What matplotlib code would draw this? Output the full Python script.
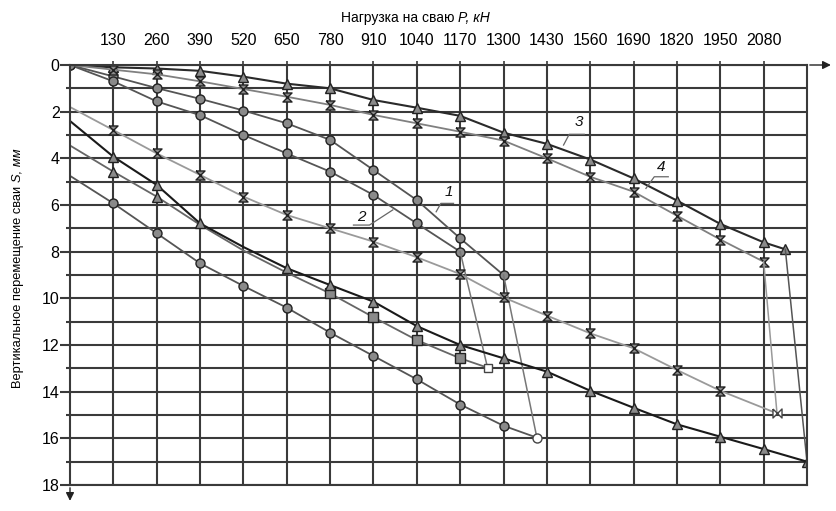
import matplotlib
matplotlib.use("Agg")
import matplotlib.pyplot as plt
import numpy as np

# --- data (load P, kN / settlement S, mm) ---
# loading branches
load_x1 = [0, 130, 260, 390, 520, 650, 780, 910, 1040, 1170, 1300]
load_s1 = [0, 0.49, 0.99, 1.45, 1.95, 2.5, 3.21, 4.5, 5.79, 7.43, 9.0]
load_x2 = [0, 130, 260, 390, 520, 650, 780, 910, 1040, 1170]
load_s2 = [0, 0.7, 1.56, 2.15, 3.0, 3.79, 4.57, 5.57, 6.79, 8.0]
load_x3 = [0, 130, 260, 390, 520, 650, 780, 910, 1040, 1170, 1300, 1430, 1560,
           1690, 1820, 1950, 2080, 2145]
load_s3 = [0, 0.1, 0.15, 0.25, 0.5, 0.8, 1.0, 1.5, 1.83, 2.18, 2.9, 3.38, 4.05,
           4.86, 5.81, 6.81, 7.6, 7.9]
load_x4 = [0, 130, 260, 390, 520, 650, 780, 910, 1040, 1170, 1300, 1430, 1560,
           1690, 1820, 1950, 2080]
load_s4 = [0, 0.2, 0.4, 0.7, 1.03, 1.36, 1.71, 2.14, 2.5, 2.86, 3.24, 4.0, 4.79,
           5.43, 6.46, 7.48, 8.43]

# lower branches (end of test back to left edge)
ret_x1 = [1400, 1300, 1170, 1040, 910, 780, 650, 520, 390, 260, 130, 0]
ret_s1 = [15.97, 15.46, 14.55, 13.47, 12.47, 11.47, 10.4, 9.47, 8.5, 7.21, 5.93, 4.75]
ret_x2 = [1252, 1170, 1040, 910, 780, 650, 520, 390, 260, 130, 0]
ret_s2 = [12.97, 12.57, 11.79, 10.81, 9.79, 8.9, 7.95, 6.85, 5.64, 4.57, 3.45]
ret_x3 = [2210, 2080, 1950, 1820, 1690, 1560, 1430, 1300, 1170, 1040, 910, 780,
          650, 520, 390, 260, 130, 0]
ret_s3 = [17.0, 16.46, 15.93, 15.4, 14.69, 13.96, 13.14, 12.57, 12.0, 11.19, 10.14,
          9.43, 8.71, 7.8, 6.79, 5.14, 3.93, 2.4]
ret_x4 = [2120, 1950, 1820, 1690, 1560, 1430, 1300, 1170, 1040, 910, 780, 650,
          520, 390, 260, 130, 0]
ret_s4 = [14.93, 13.96, 13.07, 12.14, 11.5, 10.74, 9.96, 8.96, 8.24, 7.57, 7.0,
          6.43, 5.64, 4.71, 3.79, 2.79, 1.8]

x_ticks = [130, 260, 390, 520, 650, 780, 910, 1040, 1170, 1300, 1430, 1560,
           1690, 1820, 1950, 2080]
y_ticks = [0, 2, 4, 6, 8, 10, 12, 14, 16, 18]

# curve labels: text position, leader (horizontal part + slanted part)
curve_labels = ["1", "2", "3", "4"]
label_pos = [(1137, 5.43), (873, 6.5), (1527, 2.43), (1772, 4.36)]
leader_pts = [
    [(1150, 5.93), (1112, 5.93), (1098, 6.29)],
    [(850, 6.86), (898, 6.86), (968, 6.21)],
    [(1542, 2.97), (1497, 2.97), (1480, 3.43)],
    [(1794, 4.79), (1752, 4.79), (1727, 5.29)],
]

FONT = ["Liberation Sans Narrow", "Liberation Sans", "DejaVu Sans"]
plt.rcParams["font.family"] = FONT

hourglass = [(-1, 1), (1, 1), (-1, -1), (1, -1), (-1, 1)]
bowtie = [(-1, 1), (-1, -1), (1, 1), (1, -1), (-1, 1)]

fig = plt.figure(figsize=(8.36, 5.11), dpi=100)
ax = fig.add_axes([70 / 836, 1 - 485 / 511, 737 / 836, 420 / 511])
ax.set_xlim(0, 2210)
ax.set_ylim(18, 0)

# grid
ax.set_xticks(x_ticks)
ax.set_yticks(y_ticks)
ax.set_yticks(np.arange(1, 18, 2), minor=True)
ax.grid(True, which="both", color="#3a3a3a", lw=1.5)
ax.set_axisbelow(True)
for sp in ax.spines.values():
    sp.set_color("#3a3a3a")
    sp.set_linewidth(1.5)
ax.xaxis.tick_top()
ax.tick_params(axis="x", length=3, width=1.2, color="#3a3a3a", pad=9, labelsize=11.5)
ax.tick_params(axis="y", which="major", length=7, width=1.5, color="#3a3a3a", pad=0.5,
               labelsize=11.5)
ax.tick_params(axis="y", which="minor", length=3, width=1.5, color="#3a3a3a")

mk = dict(markerfacecolor="#8a8a8a", markeredgecolor="#222222", markersize=6.5,
          markeredgewidth=1.0)

# pile 1 (circles)
ax.plot(load_x1, load_s1, "-o", color="#555555", lw=1.3, **mk)
ax.plot([load_x1[-1], ret_x1[0]], [load_s1[-1], ret_s1[0]], "-", color="#777777", lw=1.1)
ax.plot(ret_x1, ret_s1, "-o", color="#555555", lw=1.3, markevery=list(range(1, 11)), **mk)
ax.plot(ret_x1[0], ret_s1[0], "o", markerfacecolor="white", markeredgecolor="#444444",
        markersize=6.5)

# pile 2 (circles / squares)
ax.plot(load_x2, load_s2, "-o", color="#555555", lw=1.3, **mk)
ax.plot([load_x2[-1], ret_x2[0]], [load_s2[-1], ret_s2[0]], "-", color="#777777", lw=1.1)
ax.plot(ret_x2, ret_s2, "-s", color="#666666", lw=1.3, markevery=[1, 2, 3, 4], **mk)
ax.plot(ret_x2, ret_s2, "^", markevery=[8, 9], **mk)
ax.plot(ret_x2[0], ret_s2[0], "s", markerfacecolor="white", markeredgecolor="#444444",
        markersize=6)

# pile 3 (triangles)
ax.plot(load_x3, load_s3, "-^", color="#2a2a2a", lw=1.5, markevery=list(range(1, 18)), **mk)
ax.plot([load_x3[-1], ret_x3[0]], [load_s3[-1], ret_s3[0]], "-", color="#555555", lw=1.1)
ax.plot(ret_x3, ret_s3, "-^", color="#1a1a1a", lw=1.5,
        markevery=list(range(0, 13)) + [14, 15, 16], **mk)

# pile 4 (hourglass crosses)
ax.plot(load_x4, load_s4, "-", marker=hourglass, color="#808080", lw=1.3,
        markevery=list(range(1, 17)), **mk)
ax.plot([load_x4[-1], ret_x4[0]], [load_s4[-1], ret_s4[0]], "-", color="#999999", lw=1.1)
ax.plot(ret_x4, ret_s4, "-", marker=hourglass, color="#9a9a9a", lw=1.3,
        markevery=list(range(1, 16)), **mk)
ax.plot(ret_x4[0], ret_s4[0], marker=bowtie, markerfacecolor="white",
        markeredgecolor="#444444", markersize=6.5)

# curve labels with leaders
for lab, (tx, ty), pts in zip(curve_labels, label_pos, leader_pts):
    ax.text(tx, ty, lab, ha="center", va="center", fontsize=11, style="italic",
            color="#111111")
    px, py = zip(*pts)
    ax.plot(px, py, "-", color="#666666", lw=0.9)

# axis arrows
ax.annotate("", xy=(2290, 0), xytext=(2210, 0), annotation_clip=False,
            arrowprops=dict(arrowstyle="-|>", color="#222222", lw=1.0, mutation_scale=12))
ax.annotate("", xy=(0, 18.8), xytext=(0, 18), annotation_clip=False,
            arrowprops=dict(arrowstyle="-|>", color="#222222", lw=1.0, mutation_scale=12))

# axis titles (regular part + italic part)
t1 = fig.text(341 / 836, 1 - 18 / 511, "Нагрузка на сваю ", fontsize=10,
              ha="left", va="center")
ax.annotate("P, кН", xy=(1, 0), xycoords=t1, ha="left", va="bottom", fontsize=10,
            style="italic")
t2 = fig.text(18 / 836, 1 - 285 / 511, "Вертикальное перемещение сваи ", fontsize=9.3,
              rotation=90, ha="center", va="center")
ax.annotate("S, мм", xy=(0.5, 1), xycoords=t2, ha="center", va="bottom", fontsize=9.3,
            rotation=90, style="italic")

fig.savefig("out.png", dpi=100)
